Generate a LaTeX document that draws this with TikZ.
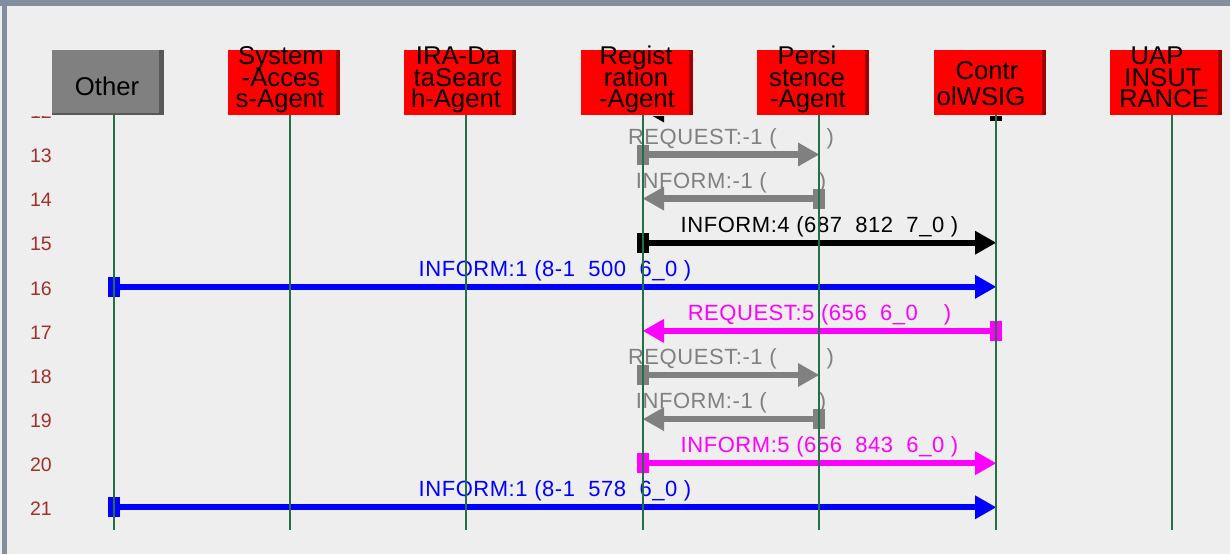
\documentclass[tikz,border=0pt]{standalone}
\usepackage{fontspec}
\setmainfont{Liberation Sans}
\newfontfamily\msgfont[LetterSpace=2.5]{Liberation Sans}
\usetikzlibrary{arrows.meta}
\definecolor{bg}{RGB}{238,238,238}
\definecolor{framec}{RGB}{128,142,158}
\definecolor{life}{RGB}{34,112,68}
\definecolor{rowred}{RGB}{160,48,40}
\definecolor{boxred}{RGB}{255,0,0}
\definecolor{shred}{RGB}{160,0,0}
\definecolor{othergray}{RGB}{128,128,128}
\definecolor{othershade}{RGB}{88,88,88}
\definecolor{msggray}{RGB}{128,128,128}
\definecolor{msgmag}{RGB}{255,0,255}
\definecolor{msgblue}{RGB}{0,0,255}
\begin{document}
\begin{tikzpicture}[x=1pt,y=-1pt,
  agentbox/.style={minimum width=112pt,minimum height=65pt,inner sep=0pt,outer sep=0pt,fill=boxred,
    path picture={\fill[shred] ([xshift=-4pt]path picture bounding box.north east) rectangle (path picture bounding box.south east);}},
  otherbox/.style={minimum width=112pt,minimum height=65pt,inner sep=0pt,outer sep=0pt,fill=othergray,
    path picture={\fill[othershade] ([xshift=-5pt]path picture bounding box.north east) rectangle (path picture bounding box.south east);
                  \fill[othershade] ([yshift=2pt]path picture bounding box.south west) rectangle (path picture bounding box.south east);}},
  hdr/.style={font=\fontsize{25.7}{26}\selectfont,anchor=base,inner sep=0pt,text=black},
  rowlbl/.style={font=\fontsize{19.5}{20}\selectfont,text=rowred,inner sep=0pt},
  msg/.style={line width=6.3pt,
    {Rectangle[length=12pt,width=20pt,line width=0pt]}-{Triangle[length=21pt,width=24pt,line width=0pt]},
    shorten <=-6pt},
  msglbl/.style={midway,anchor=base,yshift=10.5pt,inner sep=0pt,font=\msgfont\fontsize{22}{22}\selectfont},
  lifeline/.style={draw=life,line width=1.5pt}
]
\useasboundingbox (0,0) rectangle (1230,554);
\fill[bg] (0,0) rectangle (1230,554);
\fill[framec] (0,0) rectangle (1230,6);
\fill[framec] (2,0) rectangle (7,554);

% row positions (line y) and row labels
\coordinate (r12) at (0,110.5);
\coordinate (r13) at (0,154.5);
\coordinate (r14) at (0,198.6);
\coordinate (r15) at (0,242.7);
\coordinate (r16) at (0,286.8);
\coordinate (r17) at (0,330.9);
\coordinate (r18) at (0,375.0);
\coordinate (r19) at (0,419.1);
\coordinate (r20) at (0,463.2);
\coordinate (r21) at (0,507.3);
\coordinate (bottom) at (0,530);

% lifeline tops
\coordinate (Lother) at (114,115);
\coordinate (Lsys) at (290,115);
\coordinate (Lira) at (466,115);
\coordinate (Lreg) at (643,115);
\coordinate (Lpers) at (819,115);
\coordinate (Lctrl) at (996,115);
\coordinate (Luap) at (1172,115);

\node[rowlbl] (l12) at (41,112) {12};
\node[rowlbl] (l13) at (41,156) {13};
\node[rowlbl] (l14) at (41,200.1) {14};
\node[rowlbl] (l15) at (41,244.2) {15};
\node[rowlbl] (l16) at (41,288.3) {16};
\node[rowlbl] (l17) at (41,332.4) {17};
\node[rowlbl] (l18) at (41,376.5) {18};
\node[rowlbl] (l19) at (41,420.6) {19};
\node[rowlbl] (l20) at (41,464.7) {20};
\node[rowlbl] (l21) at (41,508.8) {21};

% row 12 message, mostly hidden under the header
\draw[msg,black] (Lctrl |- r12) -- (Lreg |- r12);
\fill[bg] (7,6) rectangle (1230,116);

% header boxes
\node[otherbox] (other) at (108,82.5) {};
\node[agentbox] (sys) at (284,82.5) {};
\node[agentbox] (ira) at (460,82.5) {};
\node[agentbox] (reg) at (637,82.5) {};
\node[agentbox] (pers) at (813,82.5) {};
\node[agentbox] (ctrl) at (990,82.5) {};
\node[agentbox] (uap) at (1166,82.5) {};

\node[hdr] (tother) at (107,95) {Other};
\node[hdr] (tsys1) at (281,64.5) {System};
\node[hdr] (tsys2) at (281,86) {-Acces};
\node[hdr] (tsys3) at (280,107.5) {s-Agent};
\node[hdr] (tira1) at (458,64.5) {IRA-Da};
\node[hdr] (tira2) at (458,86) {taSearc};
\node[hdr] (tira3) at (456,107.5) {h-Agent};
\node[hdr] (treg1) at (636,64.5) {Regist};
\node[hdr] (treg2) at (636,86) {ration};
\node[hdr] (treg3) at (637,107.5) {-Agent};
\node[hdr] (tpers1) at (807,64.5) {Persi};
\node[hdr] (tpers2) at (807,86) {stence};
\node[hdr] (tpers3) at (808,107.5) {-Agent};
\node[hdr] (tctrl1) at (987,79) {Contr};
\node[hdr] (tctrl2) at (981,105) {olWSIG};
\node[hdr] (tuap1) at (1157,64.5) {UAP};
\node[hdr] (tuap2) at (1163,86) {INSUT};
\node[hdr] (tuap3) at (1164,107.5) {RANCE};

% messages
\draw[msg,msggray] (Lreg |- r13) -- node[msglbl] (m13) {REQUEST:-1 (\hspace{50pt})} (Lpers |- r13);
\draw[msg,msggray] (Lpers |- r14) -- node[msglbl] (m14) {INFORM:-1 (\hspace{52pt})} (Lreg |- r14);
\draw[msg,black] (Lreg |- r15) -- node[msglbl] (m15) {INFORM:4 (687~~812~~7\_0~)} (Lctrl |- r15);
\draw[msg,msgblue] (Lother |- r16) -- node[msglbl] (m16) {INFORM:1 (8-1~~500~~6\_0~)} (Lctrl |- r16);
\draw[msg,msgmag] (Lctrl |- r17) -- node[msglbl] (m17) {REQUEST:5 (656~~6\_0\hspace{26pt})} (Lreg |- r17);
\draw[msg,msggray] (Lreg |- r18) -- node[msglbl] (m18) {REQUEST:-1 (\hspace{50pt})} (Lpers |- r18);
\draw[msg,msggray] (Lpers |- r19) -- node[msglbl] (m19) {INFORM:-1 (\hspace{52pt})} (Lreg |- r19);
\draw[msg,msgmag] (Lreg |- r20) -- node[msglbl] (m20) {INFORM:5 (656~~843~~6\_0~)} (Lctrl |- r20);
\draw[msg,msgblue] (Lother |- r21) -- node[msglbl] (m21) {INFORM:1 (8-1~~578~~6\_0~)} (Lctrl |- r21);

% lifelines on top
\foreach \L in {Lother,Lsys,Lira,Lreg,Lpers,Lctrl,Luap}
  \draw[lifeline] (\L) -- (\L |- bottom);
\end{tikzpicture}
\end{document}
